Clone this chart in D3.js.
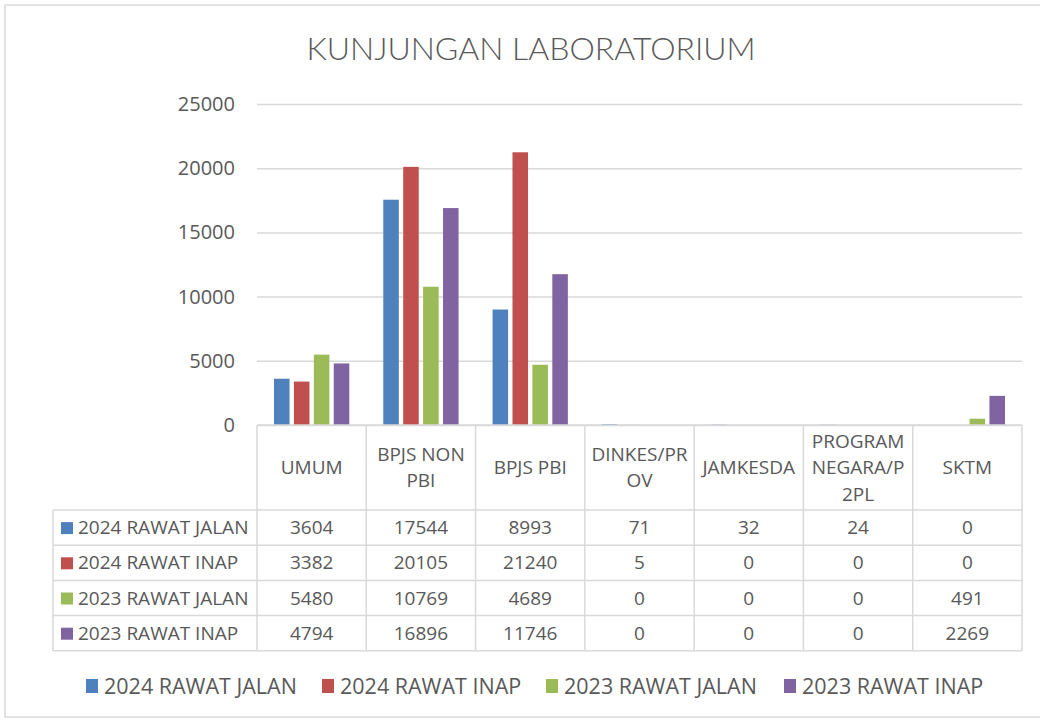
<!DOCTYPE html>
<html>
<head>
<meta charset="utf-8">
<script src="https://cdn.jsdelivr.net/npm/d3@7/dist/d3.min.js"></script>
<style>
  body { margin: 0; background: #fff; }
  text { font-family: "Open Sans", Lato, sans-serif; fill: #595959; }
</style>
</head>
<body>
<script>
var categories = ["UMUM", "BPJS NON PBI", "BPJS PBI", "DINKES/PROV", "JAMKESDA", "PROGRAM NEGARA/P2PL", "SKTM"];
var seriesNames = ["2024 RAWAT JALAN", "2024 RAWAT INAP", "2023 RAWAT JALAN", "2023 RAWAT INAP"];
var rawatJalan2024 = [3604, 17544, 8993, 71, 32, 24, 0];
var rawatInap2024 = [3382, 20105, 21240, 5, 0, 0, 0];
var rawatJalan2023 = [5480, 10769, 4689, 0, 0, 0, 491];
var rawatInap2023 = [4794, 16896, 11746, 0, 0, 0, 2269];
var yTicks = [0, 5000, 10000, 15000, 20000, 25000];
var colors = ["#4f81bd", "#c0504d", "#9bbb59", "#8064a2"];

var seriesValues = [rawatJalan2024, rawatInap2024, rawatJalan2023, rawatInap2023];

var width = 1040, height = 722;
var plotLeft = 257, plotRight = 1022, plotTop = 104, plotBase = 425;
var headerBottom = 510, rowH = 35.2, labelLeft = 53;
var gridColor = "#d9d9d9";
var tableFont = "19px";

var svg = d3.select("body").append("svg")
    .attr("width", width)
    .attr("height", height);

// outer chart border
svg.append("rect")
    .attr("x", 5).attr("y", 5)
    .attr("width", 1045).attr("height", 712)
    .attr("fill", "#fff")
    .attr("stroke", gridColor)
    .attr("stroke-width", 1.5);

svg.append("text")
    .attr("x", 531).attr("y", 60)
    .attr("text-anchor", "middle")
    .style("font-family", "Lato, sans-serif")
    .style("font-size", "32px")
    .style("font-weight", 300)
    .text("KUNJUNGAN LABORATORIUM");

var x0 = d3.scaleBand()
    .domain(categories)
    .range([plotLeft, plotRight])
    .paddingInner(0).paddingOuter(0);

var x1 = d3.scaleBand()
    .domain(seriesNames)
    .range([17, x0.bandwidth() - 17])
    .paddingInner(0.22);

var y = d3.scaleLinear()
    .domain([0, 25000])
    .range([plotBase, plotTop]);

// gridlines
svg.append("g")
    .attr("transform", "translate(" + plotLeft + ",0)")
    .call(d3.axisLeft(y).tickValues(yTicks).tickSize(-(plotRight - plotLeft)).tickFormat(""))
    .call(function(g) {
        g.select(".domain").remove();
        g.selectAll("line").attr("stroke", gridColor).attr("stroke-width", 1.5);
    });

// y labels
svg.append("g")
    .attr("transform", "translate(235,0)")
    .call(d3.axisLeft(y).tickValues(yTicks).tickSize(0).tickPadding(0).tickFormat(d3.format("d")))
    .call(function(g) {
        g.select(".domain").remove();
        g.selectAll("text")
            .style("font-size", "20px")
            .attr("fill", "#595959");
    });

// bars
var groups = svg.append("g").selectAll("g")
    .data(categories)
    .enter()
    .append("g")
    .attr("transform", function(d) { return "translate(" + x0(d) + ",0)"; });

groups.selectAll("rect")
    .data(function(d, i) {
        return seriesNames.map(function(s, j) { return {series: s, value: seriesValues[j][i], color: colors[j]}; });
    })
    .enter()
    .append("rect")
    .attr("x", function(d) { return x1(d.series); })
    .attr("y", function(d) { return y(d.value); })
    .attr("width", x1.bandwidth())
    .attr("height", function(d) { return plotBase - y(d.value); })
    .attr("fill", function(d) { return d.color; });

// data table
var table = svg.append("g");
var tableBottom = headerBottom + rowH * seriesNames.length;

function hline(xa, xb, yp) {
    table.append("line").attr("x1", xa).attr("x2", xb).attr("y1", yp).attr("y2", yp)
        .attr("stroke", gridColor).attr("stroke-width", 1.5);
}
function vline(xp, ya, yb) {
    table.append("line").attr("x1", xp).attr("x2", xp).attr("y1", ya).attr("y2", yb)
        .attr("stroke", gridColor).attr("stroke-width", 1.5);
}

hline(plotLeft, plotRight, plotBase);
for (var r = 0; r <= seriesNames.length; r++) {
    hline(labelLeft, plotRight, headerBottom + rowH * r);
}
vline(labelLeft, headerBottom, tableBottom);
x0.domain().forEach(function(c) { vline(x0(c), plotBase, tableBottom); });
vline(plotRight, plotBase, tableBottom);

// header labels, wrapped to the column width
var maxW = 100;
function wrapLabel(label) {
    var probe = svg.append("text").style("font-size", tableFont);
    function w(s) { probe.text(s); return probe.node().getComputedTextLength(); }
    var lines = [], cur = "";
    label.split(" ").forEach(function(word) {
        var trial = cur ? cur + " " + word : word;
        if (w(trial) <= maxW) { cur = trial; return; }
        if (cur) { lines.push(cur); cur = ""; }
        while (w(word) > maxW) {
            var k = word.length;
            while (k > 1 && w(word.slice(0, k)) > maxW) k--;
            lines.push(word.slice(0, k));
            word = word.slice(k);
        }
        cur = word;
    });
    if (cur) lines.push(cur);
    probe.remove();
    return lines;
}

categories.forEach(function(c) {
    var lines = wrapLabel(c);
    var lh = 26.5;
    var cy = (plotBase + headerBottom) / 2;
    var t = table.append("text")
        .attr("text-anchor", "middle")
        .style("font-size", tableFont);
    lines.forEach(function(l, i) {
        t.append("tspan")
            .attr("x", x0(c) + x0.bandwidth() / 2)
            .attr("y", cy + (i - (lines.length - 1) / 2) * lh)
            .attr("dy", "0.35em")
            .text(l);
    });
});

seriesNames.forEach(function(s, j) {
    var cy = headerBottom + rowH * j + rowH / 2;
    table.append("rect")
        .attr("x", 61).attr("y", cy - 5.5)
        .attr("width", 12).attr("height", 12)
        .attr("fill", colors[j]);
    table.append("text")
        .attr("x", 78).attr("y", cy).attr("dy", "0.35em")
        .style("font-size", tableFont)
        .text(s);
    categories.forEach(function(c, i) {
        table.append("text")
            .attr("x", x0(c) + x0.bandwidth() / 2)
            .attr("y", cy).attr("dy", "0.35em")
            .attr("text-anchor", "middle")
            .style("font-size", tableFont)
            .text(seriesValues[j][i]);
    });
});

// legend
var legendX = [86, 322, 546, 784];
var legend = svg.append("g").selectAll("g")
    .data(seriesNames)
    .enter()
    .append("g")
    .attr("transform", function(d, i) { return "translate(" + legendX[i] + ",686)"; });

legend.append("rect")
    .attr("x", 0).attr("y", -7)
    .attr("width", 12).attr("height", 14)
    .attr("fill", function(d, i) { return colors[i]; });

legend.append("text")
    .attr("x", 18).attr("dy", "0.35em")
    .style("font-size", "21.5px")
    .text(function(d) { return d; });
</script>
</body>
</html>
